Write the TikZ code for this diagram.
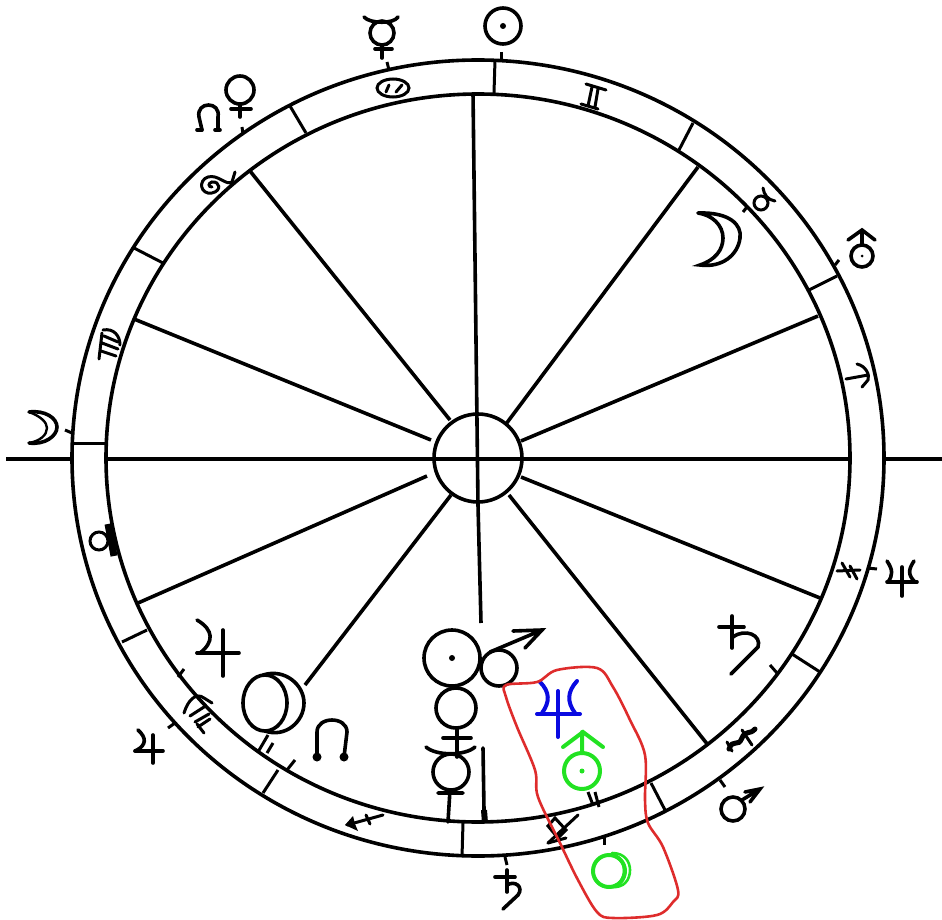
\documentclass[tikz,border=0pt]{standalone}
\usetikzlibrary{arrows}
\definecolor{loopred}{RGB}{222,44,44}
\definecolor{glyphgreen}{RGB}{34,226,34}
\definecolor{glyphblue}{RGB}{10,10,225}
\tikzset{
  wheel_l/.style = {draw=black, line width=3.6pt},
  sign_l/.style = {draw=black, line width=3pt, line cap=round},
  planet_l/.style = {draw=black, line width=3.6pt, line cap=round},
  tick_l/.style = {draw=black, line width=3pt},
  blue_l/.style = {draw=glyphblue, line width=4pt, line cap=round},
  green_l/.style = {draw=glyphgreen, line width=4pt, line cap=round},
  red_l/.style = {draw=loopred, line width=2.6pt},
}
\begin{document}
\begin{tikzpicture}[x=1pt,y=-1pt]
\useasboundingbox (0,0) rectangle (942,920);

% wheel
\draw[wheel_l] (478,458) ellipse [x radius=406pt, y radius=398pt];
\draw[wheel_l] (478,458) ellipse [x radius=372pt, y radius=364pt];
\draw[wheel_l] (478,458) circle [radius=44pt];
\draw[wheel_l] (6,459) -- (72,459) (106,459) -- (849,459) (884,459) -- (942,459);
\draw[wheel_l] (473,93) -- (478,505) (478,505) -- (481,623);
\foreach \xa/\ya/\xb/\yb in {506/424/698/167, 521/441/818/316, 521/477/820/598, 509/495/708/745,
    451/495/305/685, 427/476/138/603, 431/440/134/319, 450/420/250/171}
  \draw[wheel_l] (\xa,\ya) -- (\xb,\yb);
\foreach \xa/\ya/\xb/\yb in {495/60/494/93, 693/123/679/150, 837/276/809/290, 820/672/792/654,
    665/810/651/783, 462/857/463/823, 263/793/278/770, 122/642/147/630, 72/443/107/443,
    134/248/163/263, 290/106/306/133}
  \draw[tick_l] (\xa,\ya) -- (\xb,\yb);
% small ticks
\foreach \xa/\ya/\xb/\yb in {501/52/501/60, 387/62/389/70, 242/127/243/134, 835/265/839/260,
    867/568/877/569, 770/665/777/673, 720/780/725/787, 604/838/604/845, 505/857/507/865,
    168/728/175/723, 178/677/184/669, 287/770/295/760, 65/430/72/433, 743/212/747/207,
    268/735/258/752, 273/743/267/753, 588/792/593/805, 595/792/599/807}
  \draw[tick_l] (\xa,\ya) -- (\xb,\yb);

% signs in the ring
\draw[sign_l] (393,88) ellipse [x radius=16pt, y radius=9pt];
\draw[sign_l] (386,92) -- (389,85) (396,92) -- (402,85);
\draw[sign_l] (235,172) -- (232,182) .. controls (226,186) and (218,174) .. (208,177)
  .. controls (198,180) and (200,195) .. (212,193) .. controls (222,191) and (220,181) .. (212,182)
  .. controls (208,183) and (208,187) .. (212,187);
\draw[sign_l] (586,84) -- (606,90) (581,104) -- (598,109) (592,87) -- (588,106) (598,89) -- (595,107);
\draw[sign_l] (761,203) circle [radius=7pt];
\draw[sign_l] (763,188) .. controls (764,195) and (768,200) .. (775,201);
\draw[sign_l] (846,379) -- (868,375);
\draw[sign_l] (857,364) .. controls (866,366) and (870,375) .. (868,380) -- (862,387);
\draw[sign_l] (837,571) -- (860,570) (842,563) -- (850,577) (850,566) -- (857,579);
\draw[sign_l, line width=5pt] (729,749) .. controls (733,738) and (738,748) .. (742,738) .. controls (745,730) and (750,735) .. (755,729);
\draw[sign_l, line width=3pt] (727,742) -- (732,751) (742,730) -- (752,745);
\draw[sign_l] (578,815) -- (548,843) (555,818) -- (566,830) -- (558,838) -- (548,826) -- cycle;
\draw[sign_l] (548,843) -- (566,838);
\draw[sign_l] (383,815) -- (347,825) (366,815) -- (370,824);
\fill (353,816) -- (345,825) -- (358,831) -- (355,824) -- cycle;
\draw[sign_l] (184,713) .. controls (188,700) and (196,692) .. (204,698) -- (212,703);
\draw[sign_l] (190,716) -- (204,707) (195,722) -- (209,714) (198,727) -- (210,719) (197,724) -- (204,733);
\draw[sign_l] (103,330) .. controls (114,328) and (120,336) .. (120,345);
\draw[sign_l] (102,333) -- (99,359) (104,336) -- (118,342) (102,343) -- (118,349) (101,351) -- (116,356);
\draw[sign_l] (99,541) circle [radius=9pt];
\draw[draw=black, line width=7pt] (108,524) -- (114,556);

% planets outside the ring
\draw[planet_l] (503,26) circle [radius=18pt];
\fill (503,26) circle [radius=3pt];
\draw[planet_l] (382,33) circle [radius=12pt];
\draw[planet_l] (364,17) .. controls (370,24) and (394,24) .. (398,17);
\draw[planet_l] (382,45) -- (382,58) (375,49) -- (392,49);
\draw[planet_l] (240,90) circle [radius=14pt];
\draw[planet_l] (240,104) -- (240,117) (231,109) -- (251,109);
\draw[planet_l] (202,130) -- (199,117) .. controls (196,101) and (221,101) .. (218,117) -- (218,130);
\draw[planet_l] (197,130) -- (202,130) (215,130) -- (220,130);
\draw[planet_l] (862,256) circle [radius=11pt];
\fill (862,256) circle [radius=1.5pt];
\draw[planet_l] (862,245) -- (862,230) (848,240) -- (862,230) -- (875,240);
\draw[planet_l] (902,567) -- (902,596) (887,582) -- (917,582);
\draw[planet_l] (887,561) .. controls (893,570) and (893,575) .. (888,582);
\draw[planet_l] (914,561) .. controls (908,570) and (908,575) .. (915,582);
\draw[planet_l] (733,809) circle [radius=12pt];
\draw[planet_l] (742,800) -- (760,789) (745,792) -- (760,789) -- (750,802);
\draw[planet_l] (495,877) -- (515,877) (507,870) -- (507,892);
\draw[planet_l] (507,885) .. controls (515,880) and (524,887) .. (518,895) -- (503,909);
\draw[planet_l] (153,735) -- (153,763) (135,751) -- (163,751);
\draw[planet_l] (138,730) .. controls (147,738) and (146,745) .. (137,750) -- (135,751);
\draw[planet_l] (29,412) .. controls (45,410) and (57,418) .. (57,427) .. controls (57,436) and (45,445) .. (29,443);
\draw[planet_l, line width=2.4pt] (29,412) .. controls (40,416) and (47,422) .. (47,428) .. controls (47,435) and (40,441) .. (29,443);

% planets inside the ring
\draw[planet_l] (698,213) .. controls (730,212) and (742,225) .. (740,238)
  .. controls (738,255) and (722,268) .. (700,265)
  .. controls (715,260) and (723,250) .. (723,238)
  .. controls (723,225) and (712,215) .. (698,213);
\draw[planet_l] (719,627) -- (744,627) (732,616) -- (732,648);
\draw[planet_l] (733,637) .. controls (745,628) and (762,635) .. (758,647) -- (731,674);
\draw[planet_l] (223,630) -- (223,676) (197,653) -- (239,653);
\draw[planet_l] (197,620) .. controls (214,630) and (214,642) .. (200,653) -- (197,653);
\draw[planet_l] (265,703) ellipse [x radius=22pt, y radius=28pt];
\draw[planet_l] (263,675) .. controls (285,668) and (304,685) .. (304,703) .. controls (304,722) and (285,738) .. (265,731);
\draw[planet_l] (317,757) -- (317,732) .. controls (317,716) and (347,716) .. (347,732) -- (344,757);
\fill (317,757) circle [radius=4.5pt] (344,757) circle [radius=4.5pt];

% the stack at the foot of the wheel
\draw[planet_l] (452,658) circle [radius=28pt];
\fill (452,658) circle [radius=3pt];
\draw[planet_l] (499,668) circle [radius=18pt];
\draw[planet_l] (490,652) -- (542,630) (513,631) -- (542,630) -- (525,648);
\draw[planet_l] (456,708) circle [radius=20pt];
\draw[planet_l] (457,728) -- (457,757) (443,738) -- (471,738);
\draw[planet_l] (426,747) .. controls (436,756) and (465,756) .. (475,747);
\draw[planet_l] (451,772) circle [radius=18pt];
\draw[planet_l] (450,790) -- (448,822) (438,793) -- (463,793);
\draw[planet_l] (483,748) -- (484,810);
\draw[draw=black, line width=6pt] (484,810) -- (485,823);

% marked group
\draw[blue_l] (558,691) -- (558,737) (537,714) -- (580,714);
\draw[blue_l] (540,682) .. controls (550,692) and (550,702) .. (542,713);
\draw[blue_l] (577,681) .. controls (567,692) and (567,702) .. (575,713);
\draw[green_l] (582,771) circle [radius=18pt];
\fill[glyphgreen] (582,771) circle [radius=2.5pt];
\draw[green_l] (582,753) -- (582,732) (563,747) -- (583,732) -- (603,747);
\draw[green_l] (609,871) circle [radius=16pt];
\draw[green_l, line width=2.6pt] (612,853) .. controls (625,853) and (630,862) .. (630,870) .. controls (630,880) and (624,888) .. (612,887);
\draw[green_l, line width=2.6pt] (615,855) .. controls (621,858) and (624,864) .. (624,870) .. controls (624,878) and (620,884) .. (614,886);
\draw[red_l] plot[smooth cycle, tension=0.55] coordinates {(506,685) (537,682) (557,670) (597,668)
  (613,687) (630,720) (645,755) (645,800) (648,823) (663,847) (678,890) (673,902) (657,915)
  (613,918) (597,912) (578,880) (560,843) (538,797) (535,770) (517,727) (506,697)};
\end{tikzpicture}
\end{document}
